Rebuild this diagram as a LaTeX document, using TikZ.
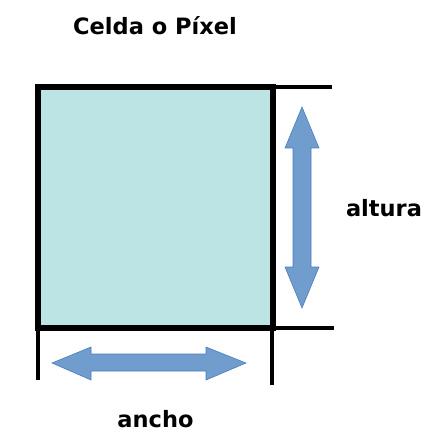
\documentclass[tikz,border=0pt]{standalone}
\usepackage{fontspec}
\setmainfont{DejaVu Sans}
\definecolor{cellfill}{RGB}{188,228,228}
\definecolor{arrowfill}{RGB}{112,156,206}
\definecolor{arrowline}{RGB}{74,126,187}
\tikzset{
  lbl/.style={font=\fontsize{22.5}{26}\selectfont\bfseries, text=black, inner sep=0pt, anchor=base},
  dimarrow/.style={fill=arrowfill, draw=arrowline, line width=0.6pt, line join=miter},
  guide/.style={draw=black, line width=4.2pt},
}
\begin{document}
\begin{tikzpicture}[x=1pt,y=-1pt]
\useasboundingbox (0,0) rectangle (445,446);
% guide lines
\draw[guide] (273,87) -- (332,87);
\draw[guide] (273,328) -- (334,328);
\draw[guide] (38,328) -- (38,380);
\draw[guide] (272,328) -- (272,385);
% cell
\filldraw[fill=cellfill, draw=black, line width=5.5pt] (38,87) rectangle (273,328);
% vertical arrow
\path[dimarrow] (302,107) -- (319,148) -- (311,148) -- (311,267) -- (319,267) -- (302,308)
  -- (285,267) -- (293,267) -- (293,148) -- (285,148) -- cycle;
% horizontal arrow
\path[dimarrow] (52,363) -- (91,347) -- (91,354) -- (206,354) -- (206,347) -- (246,363)
  -- (206,380) -- (206,371) -- (91,371) -- (91,380) -- cycle;
% labels
\node[lbl] (title) at (155,35) {Celda o Píxel};
\node[lbl] (alt) at (384,216) {altura};
\node[lbl] (anc) at (155.5,427) {ancho};
\end{tikzpicture}
\end{document}
